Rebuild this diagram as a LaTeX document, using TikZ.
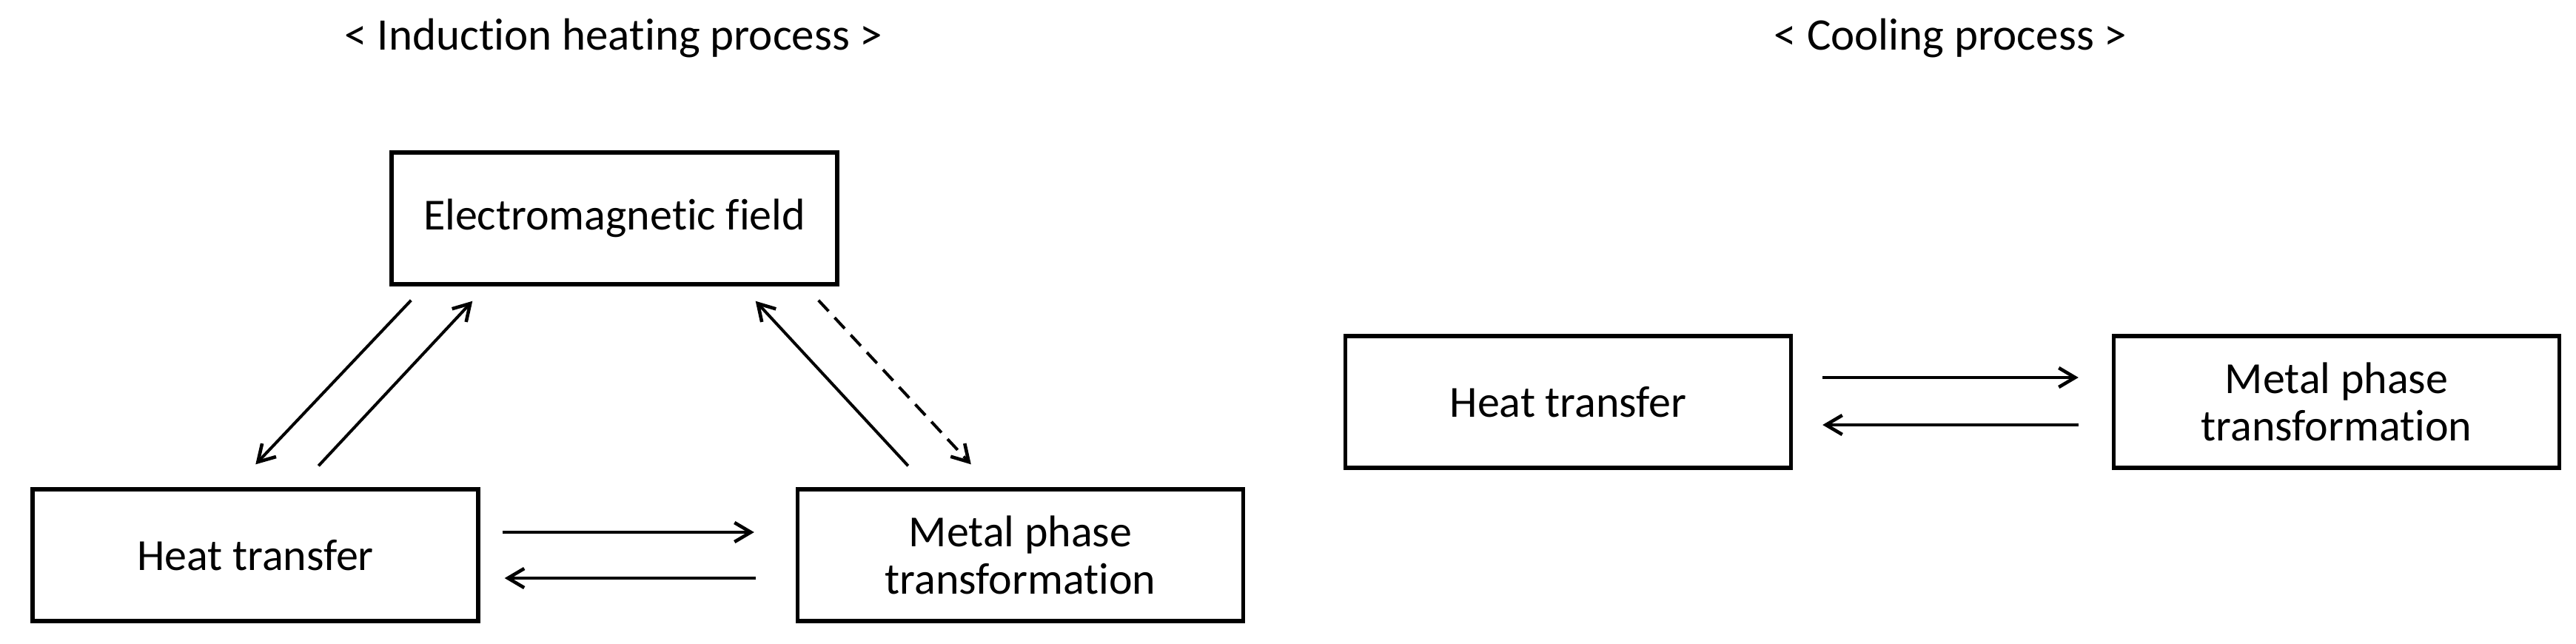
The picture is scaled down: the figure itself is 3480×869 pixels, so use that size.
\documentclass[tikz,border=0pt]{standalone}
\usepackage{fontspec}
\setmainfont{Carlito}[Ligatures=NoCommon]
\usetikzlibrary{arrows.meta,calc}
\begin{document}
\begin{tikzpicture}[x=0.5pt,y=-0.5pt,
  box/.style={draw=black,line width=2.7pt,minimum width=301pt,minimum height=89pt,inner sep=0pt,align=center,font=\fontsize{30}{32}\selectfont},
  title/.style={font=\fontsize{30.5}{32}\selectfont,inner sep=0pt},
  conn/.style={line width=2pt,-{Straight Barb[length=11pt,width=13pt,line width=2.3pt]}},
  dconn/.style={conn,dash pattern=on 10pt off 6pt}]
\useasboundingbox (0,0) rectangle (3480,869);
% titles
\node[title] (t1) at (829,52) {< Induction heating process >};
\node[title] (t2) at (2635,52) {< Cooling process >};
% heating boxes
\node[box] (em) at (830,295) {Electromagnetic field};
\node[box] (htl) at (345,750) {Heat transfer};
\node[box] (mpl) at (1378.5,750) {Metal phase\\transformation};
% cooling boxes
\node[box] (htc) at (2118.5,543) {Heat transfer};
\node[box] (mpc) at (3156.5,543) {Metal phase\\transformation};
% connector end points
\coordinate (a1s) at ($(em.south west)+(29,19)$);
\coordinate (a1e) at ($(htl.north west)+(304,-31)$);
\coordinate (a2s) at ($(htl.north west)+(389,-29)$);
\coordinate (a2e) at ($(em.south west)+(112,20)$);
\coordinate (a3s) at ($(mpl.north west)+(152,-29)$);
\coordinate (a3e) at ($(em.south east)+(-113,20)$);
\coordinate (a4s) at ($(em.south east)+(-28,19)$);
\coordinate (a4e) at ($(mpl.north west)+(237,-31)$);
\coordinate (h1s) at ($(htl.east)+(30,-31)$);
\coordinate (h1e) at ($(mpl.west)+(-56,-31)$);
\coordinate (h2s) at ($(mpl.west)+(-54,31)$);
\coordinate (h2e) at ($(htl.east)+(33,31)$);
\coordinate (c1s) at ($(htc.east)+(40,-33)$);
\coordinate (c1e) at ($(mpc.west)+(-45,-33)$);
\coordinate (c2s) at ($(mpc.west)+(-45,31)$);
\coordinate (c2e) at ($(htc.east)+(40,31)$);
% connectors
\draw[conn] (a1s) -- (a1e);
\draw[conn] (a2s) -- (a2e);
\draw[conn] (a3s) -- (a3e);
\draw[dconn] (a4s) -- (a4e);
\draw[conn] (h1s) -- (h1e);
\draw[conn] (h2s) -- (h2e);
\draw[conn] (c1s) -- (c1e);
\draw[conn] (c2s) -- (c2e);
\end{tikzpicture}
\end{document}
